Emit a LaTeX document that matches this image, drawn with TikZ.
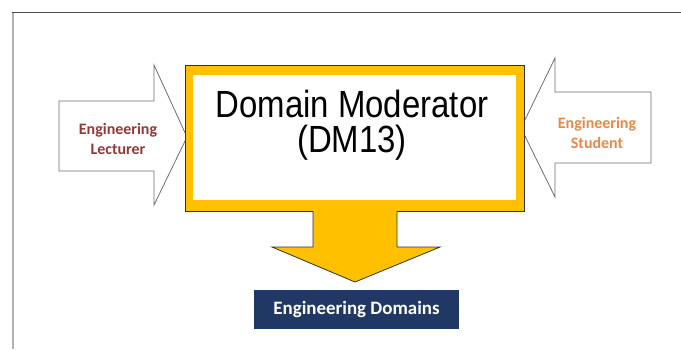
\documentclass[tikz,border=0pt]{standalone}
\usepackage{fontspec}
\setmainfont{Liberation Sans}
\newfontfamily\titlefont[FakeStretch=0.87]{Liberation Sans}
\newfontfamily\labelfont{Carlito}
\definecolor{gold}{HTML}{FFC000}
\definecolor{navy}{HTML}{1F3864}
\definecolor{lectred}{HTML}{953735}
\definecolor{studorange}{HTML}{E8894A}
\definecolor{edgegray}{HTML}{6E6E6E}
\usepackage{tikz}

\begin{document}
\begin{tikzpicture}[x=1bp, y=-1bp,
  sidearrow/.style={fill=white, draw=edgegray, line width=0.8bp},
  sidelabel/.style={font=\labelfont\bfseries\fontsize{16}{19.5}\selectfont, align=center, anchor=base, inner sep=0pt},
  titletext/.style={font=\titlefont\fontsize{38}{38}\selectfont, anchor=base, inner sep=0pt}]
  \useasboundingbox (0,0) rectangle (681,349);

  % frame
  \draw[black!30, line width=2.5bp] (13,349) -- (13,12);
  \draw[black!70, line width=1bp] (12,12) -- (681,12);

  % side arrows
  \draw[sidearrow] (59,101) -- (154,101) -- (154,65) -- (187,137) -- (154,205) -- (154,171) -- (59,171) -- cycle;
  \draw[sidearrow] (651,92) -- (555,92) -- (555,58) -- (521,128) -- (555,197) -- (555,163) -- (651,163) -- cycle;

  % moderator box
  \draw[fill=gold, draw=black!80, line width=0.8bp] (185,65) rectangle (524,211);
  \fill[white] (193,75) rectangle (516,200);

  % down arrow
  \fill[gold] (313,208) -- (313,247) -- (272,247) -- (355,282) -- (440,247) -- (397,247) -- (397,208) -- cycle;
  \draw[black!80, line width=0.8bp, line join=miter] (313,211) -- (313,247) -- (272,247) -- (355,282) -- (440,247) -- (397,247) -- (397,211);

  \node[titletext] (dmname) at (352,117) {Domain Moderator};
  \node[titletext] (dmcode) at (352,152) {(DM13)};

  \node[sidelabel, text=lectred] (lecturer) at (118,154) {Engineering\\Lecturer};
  \node[sidelabel, text=studorange] (student) at (597,148) {Engineering\\Student};

  \node[fill=navy, text=white, font=\labelfont\bfseries\fontsize{19}{19}\selectfont,
        minimum width=205bp, minimum height=39bp, inner sep=0pt] (domains) at (356.5,309.5) {Engineering Domains};
\end{tikzpicture}
\end{document}
